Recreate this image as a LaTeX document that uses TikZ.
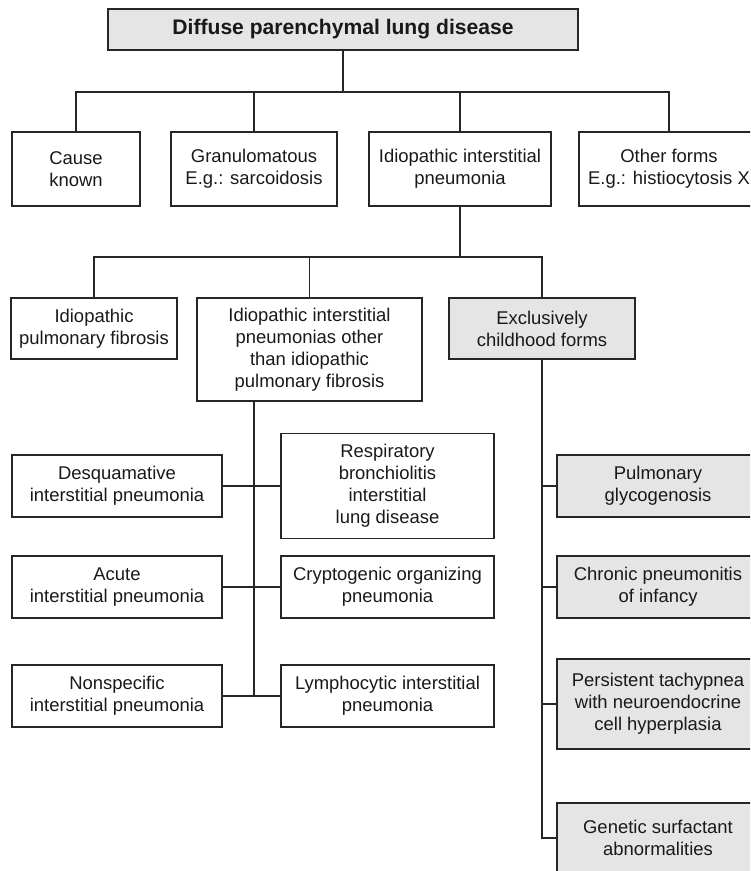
\documentclass[tikz,border=0pt]{standalone}
\usepackage{fontspec}
\setmainfont{Liberation Sans}
\usepackage{tikz}
\usepackage{xcolor}

\begin{document}
\begin{tikzpicture}[
        line width=0.75pt,
        leaf/.style={draw=black!85, align=center, inner sep=0pt, text=black!90,
            font=\fontsize{10.5}{12.6}\selectfont},
        shaded/.style={leaf, fill=black!10},
        lcol/.style={leaf, minimum width=4.2cm, minimum height=1.24cm},
        mcol/.style={leaf, minimum width=4.26cm, minimum height=1.24cm},
        rcol/.style={shaded, minimum width=4.04cm, minimum height=1.24cm}
    ]
                \clip (0, 0) rectangle (15, -17.42);
                \node[shaded, minimum width=9.4cm, minimum height=0.82cm, font=\fontsize{12}{14}\selectfont\bfseries] (o) at (6.86, -0.59) {Diffuse parenchymal lung disease};
                \node[leaf, minimum width=2.56cm, minimum height=1.48cm] (oa) at (1.52, -3.38) {Cause\\known};
                \node[leaf, minimum width=3.32cm, minimum height=1.48cm] (ob) at (5.08, -3.38) {Granulomatous\\E.g.: sarcoidosis};
                \node[leaf, minimum width=3.64cm, minimum height=1.48cm] (oc) at (9.2, -3.38) {Idiopathic interstitial\\pneumonia};
                \node[leaf, minimum width=3.6cm, minimum height=1.48cm] (od) at (13.38, -3.38) {Other forms\\E.g.: histiocytosis X};
                \node[leaf, minimum width=3.32cm, minimum height=1.22cm] (oca) at (1.88, -6.57) {Idiopathic\\pulmonary fibrosis};
                \node[leaf, minimum width=4.5cm, minimum height=2.06cm] (ocb) at (6.19, -6.99) {Idiopathic interstitial\\pneumonias other\\than idiopathic\\pulmonary fibrosis};
                \node[shaded, minimum width=3.72cm, minimum height=1.22cm] (occ) at (10.84, -6.57) {Exclusively\\childhood forms};
                \node[lcol] (ocba) at (2.34, -9.72) {Desquamative\\interstitial pneumonia};
                \node[mcol, minimum height=2.1cm] (ocbb) at (7.75, -9.72) {Respiratory\\bronchiolitis\\interstitial\\lung disease};
                \node[lcol] (ocbc) at (2.34, -11.74) {Acute\\interstitial pneumonia};
                \node[mcol] (ocbd) at (7.75, -11.74) {Cryptogenic organizing\\pneumonia};
                \node[lcol] (ocbe) at (2.34, -13.92) {Nonspecific\\interstitial pneumonia};
                \node[mcol] (ocbf) at (7.75, -13.92) {Lymphocytic interstitial\\pneumonia};
                \node[rcol] (occa) at (13.16, -9.72) {Pulmonary\\glycogenosis};
                \node[rcol] (occb) at (13.16, -11.74) {Chronic pneumonitis\\of infancy};
                \node[rcol, minimum height=1.8cm] (occc) at (13.16, -14.08) {Persistent tachypnea\\with neuroendocrine\\cell hyperplasia};
                \node[rcol, minimum height=1.4cm] (occd) at (13.16, -16.76) {Genetic surfactant\\abnormalities};
                % split points of the tree
                \coordinate (s1) at (6.86, -1.84);
                \coordinate (s2) at (9.2, -5.14);
                \coordinate (s3) at (5.08, -8.02);
                \draw[black!85]
                (o) -- (s1)
                (s1) -| (oa)
                (s1) -| (ob)
                (s1) -| (oc)
                (s1) -| (od)
                (oc) -- (s2)
                (s2) -| (oca)
                (s2) -| (ocb)
                (s2) -| (occ)
                (s3) |- (ocbe.east)
                (ocba) -- (ocbb)
                (ocbc) -- (ocbd)
                (ocbe) -- (ocbf)
                (occ) |- (occd.west)
                (occ) |- (occa.west)
                (occ) |- (occb.west)
                (occ) |- (occc.west);
            \end{tikzpicture}
\end{document}
